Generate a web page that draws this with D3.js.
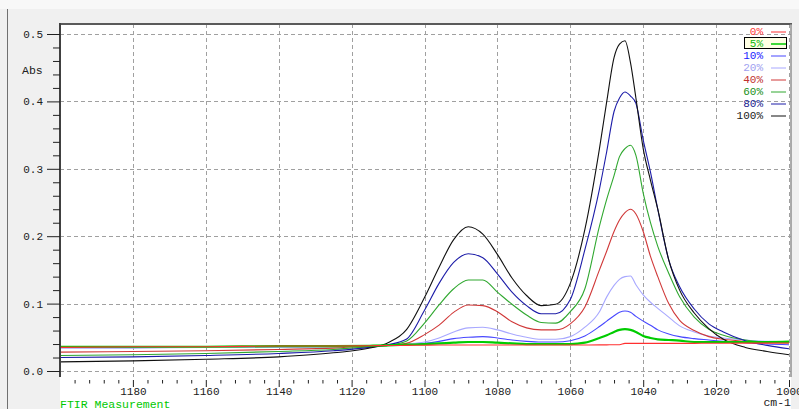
<!DOCTYPE html>
<html>
<head>
<meta charset="utf-8">
<script src="https://cdn.jsdelivr.net/npm/d3@7"></script>
<style>
  html, body { margin: 0; padding: 0; background: #f0f0f0; }
  svg { display: block; }
  text { font-family: "Liberation Mono", "DejaVu Sans Mono", monospace; }
</style>
</head>
<body>
<svg id="chart" width="799" height="409"></svg>
<script>
/* global d3 */
(function() {
    'use strict';

    // wavenumber grid (cm-1) the absorbance values were read at
    var WAVENUMBERS = [1200, 1180, 1160, 1140, 1125, 1115, 1110, 1105, 1100, 1096,
        1092, 1088, 1084, 1080, 1076, 1072, 1068, 1064, 1060, 1056,
        1052, 1050, 1048, 1046.5, 1045, 1043.5, 1042, 1040, 1038, 1036,
        1033, 1030, 1026, 1022, 1018, 1012, 1006, 1000];

    var ABS_0 = [0.035, 0.036, 0.036, 0.037, 0.037, 0.0375, 0.0378, 0.038, 0.0383, 0.0385,
        0.0385, 0.0385, 0.0385, 0.0385, 0.0385, 0.0385, 0.0385, 0.0385, 0.0385, 0.0386,
        0.0387, 0.0388, 0.0389, 0.039, 0.041, 0.041, 0.041, 0.041, 0.041, 0.041,
        0.041, 0.041, 0.041, 0.0412, 0.0412, 0.0413, 0.0414, 0.0415];
    var ABS_5 = [0.036, 0.036, 0.036, 0.037, 0.037, 0.0375, 0.038, 0.039, 0.040, 0.041,
        0.042, 0.043, 0.043, 0.042, 0.041, 0.040, 0.040, 0.040, 0.040, 0.042,
        0.049, 0.053, 0.058, 0.061, 0.062, 0.061, 0.058, 0.052, 0.049, 0.047,
        0.046, 0.045, 0.043, 0.043, 0.043, 0.043, 0.043, 0.0435];
    var ABS_10 = [0.035, 0.035, 0.035, 0.036, 0.036, 0.037, 0.038, 0.039, 0.041, 0.044,
        0.048, 0.050, 0.051, 0.049, 0.046, 0.044, 0.043, 0.043, 0.045, 0.052,
        0.066, 0.074, 0.082, 0.087, 0.089, 0.087, 0.081, 0.074, 0.068, 0.061,
        0.055, 0.051, 0.048, 0.046, 0.044, 0.042, 0.040, 0.039];
    var ABS_20 = [0.034, 0.034, 0.035, 0.035, 0.036, 0.037, 0.038, 0.040, 0.043, 0.049,
        0.058, 0.064, 0.065, 0.061, 0.055, 0.050, 0.047, 0.047, 0.051, 0.065,
        0.088, 0.110, 0.127, 0.136, 0.140, 0.141, 0.128, 0.113, 0.102, 0.093,
        0.080, 0.067, 0.058, 0.052, 0.049, 0.046, 0.044, 0.0435];
    var ABS_40 = [0.028, 0.029, 0.030, 0.032, 0.034, 0.037, 0.038, 0.041, 0.054, 0.068,
        0.087, 0.098, 0.097, 0.088, 0.073, 0.064, 0.061, 0.061, 0.070, 0.095,
        0.150, 0.178, 0.207, 0.224, 0.235, 0.240, 0.233, 0.207, 0.170, 0.140,
        0.100, 0.075, 0.060, 0.051, 0.047, 0.044, 0.042, 0.0415];
    var ABS_60 = [0.023, 0.024, 0.026, 0.029, 0.032, 0.036, 0.038, 0.044, 0.071, 0.098,
        0.122, 0.135, 0.135, 0.117, 0.099, 0.083, 0.072, 0.071, 0.088, 0.122,
        0.215, 0.255, 0.290, 0.318, 0.330, 0.335, 0.320, 0.264, 0.220, 0.185,
        0.145, 0.110, 0.080, 0.062, 0.053, 0.046, 0.043, 0.042];
    var ABS_80 = [0.020, 0.021, 0.023, 0.026, 0.030, 0.035, 0.039, 0.047, 0.090, 0.130,
        0.161, 0.174, 0.168, 0.144, 0.117, 0.097, 0.085, 0.085, 0.106, 0.180,
        0.270, 0.326, 0.385, 0.405, 0.414, 0.408, 0.397, 0.343, 0.295, 0.240,
        0.165, 0.125, 0.092, 0.070, 0.058, 0.045, 0.038, 0.033];
    var ABS_100 = [0.0135, 0.015, 0.0175, 0.021, 0.027, 0.034, 0.042, 0.061, 0.109, 0.154,
        0.195, 0.214, 0.203, 0.173, 0.138, 0.112, 0.097, 0.099, 0.130, 0.210,
        0.330, 0.400, 0.465, 0.485, 0.490, 0.458, 0.405, 0.330, 0.283, 0.240,
        0.165, 0.120, 0.086, 0.063, 0.047, 0.035, 0.029, 0.024];

    var SERIES_NAMES = ['0%', '5%', '10%', '20%', '40%', '60%', '80%', '100%'];
    var SERIES_VALUES = [ABS_0, ABS_5, ABS_10, ABS_20, ABS_40, ABS_60, ABS_80, ABS_100];
    var X_TICKS = [1180, 1160, 1140, 1120, 1100, 1080, 1060, 1040, 1020, 1000];
    var Y_TICKS = [0, 0.1, 0.2, 0.3, 0.4, 0.5];

    var LINE_COLORS = ['#ff3030', '#00cc00', '#4848ff', '#a8a8ff', '#d03838', '#30a830', '#1c1ca8', '#101010'],
        TEXT_COLORS = ['#ff3838', '#10b810', '#2020ff', '#a0a0f0', '#c03030', '#209020', '#202090', '#202020'],
        DRAW_ORDER = [2, 3, 4, 5, 6, 7, 1, 0];

    var svg = d3.select('#chart'),
        left = 60, right = 791, top = 24, bottom = 377;

    var x = d3.scaleLinear().domain([1200, 1000]).range([60, 789]),
        y = d3.scaleLinear().domain([0, 0.5]).range([371, 34]);

    // window chrome
    svg.append('rect').attr('width', 799).attr('height', 409).attr('fill', '#f0f0f0');
    svg.append('rect').attr('width', 799).attr('height', 9).attr('fill', '#f8f8f8');
    svg.append('line').attr('x1', 7.5).attr('x2', 7.5).attr('y1', 9).attr('y2', 409)
        .attr('stroke', '#707070');
    svg.append('rect').attr('x', left).attr('y', top)
        .attr('width', right - left).attr('height', 409 - top).attr('fill', '#fff');

    svg.append('clipPath').attr('id', 'plot-clip')
        .append('rect').attr('x', left).attr('y', top)
        .attr('width', right - left).attr('height', bottom - top);

    // dashed grid
    var grid = svg.append('g').attr('class', 'grid')
        .attr('stroke', '#a0a0a0').attr('stroke-dasharray', '4,3').attr('shape-rendering', 'crispEdges');
    grid.selectAll('line.gx').data(X_TICKS).enter().append('line').attr('class', 'gx')
        .attr('x1', function(d) { return Math.round(x(d)) + 0.5; })
        .attr('x2', function(d) { return Math.round(x(d)) + 0.5; })
        .attr('y1', top).attr('y2', bottom);
    grid.selectAll('line.gy').data(Y_TICKS).enter().append('line').attr('class', 'gy')
        .attr('y1', function(d) { return Math.round(y(d)) + 0.5; })
        .attr('y2', function(d) { return Math.round(y(d)) + 0.5; })
        .attr('x1', left).attr('x2', right);

    // spectra
    var line = d3.line()
        .x(function(d, i) { return x(WAVENUMBERS[i]); })
        .y(function(d) { return y(d); })
        .curve(d3.curveMonotoneX);

    svg.append('g').attr('clip-path', 'url(#plot-clip)')
        .selectAll('path').data(DRAW_ORDER).enter().append('path')
        .attr('d', function(k) { return line(SERIES_VALUES[k]); })
        .attr('fill', 'none')
        .attr('stroke', function(k) { return LINE_COLORS[k]; })
        .attr('stroke-width', function(k) { return k === 1 ? 2.2 : 1.1; });

    // frame
    svg.append('line').attr('x1', left - 1).attr('x2', right + 1).attr('y1', top).attr('y2', top)
        .attr('stroke', '#5a5a5a').attr('stroke-width', 2);
    svg.append('line').attr('x1', right).attr('x2', right).attr('y1', top).attr('y2', bottom)
        .attr('stroke', '#909090').attr('stroke-width', 1.5);
    svg.append('line').attr('x1', left).attr('x2', left).attr('y1', top - 1).attr('y2', bottom)
        .attr('stroke', '#404040').attr('stroke-width', 2);

    // axes
    var yMinor = d3.range(0, 0.51, 0.02).filter(function(v) { return Math.round(v * 100) % 10 !== 0; }),
        xMinor = d3.range(1196, 1000, -4).filter(function(v) { return v % 20 !== 0; });

    function styleAxis(g) {
        g.select('.domain').remove();
        g.selectAll('line').attr('stroke', '#202020');
        g.selectAll('text').attr('fill', '#202020').style('font-size', '11px')
            .style('font-family', '"Liberation Mono", monospace');
    }

    svg.append('g').attr('transform', 'translate(' + left + ',0)')
        .call(d3.axisLeft(y).tickValues(Y_TICKS).tickSize(13).tickPadding(4).tickFormat(d3.format('.1f')))
        .call(styleAxis);
    svg.append('g').attr('transform', 'translate(' + left + ',0)')
        .call(d3.axisLeft(y).tickValues(yMinor).tickSize(7).tickFormat(''))
        .call(styleAxis);
    svg.append('g').attr('transform', 'translate(0,380)')
        .call(d3.axisBottom(x).tickValues(X_TICKS).tickSize(7).tickPadding(0).tickFormat(d3.format('d')))
        .call(styleAxis);
    svg.append('g').attr('transform', 'translate(0,380)')
        .call(d3.axisBottom(x).tickValues(xMinor).tickSize(3.5).tickFormat(''))
        .call(styleAxis);

    svg.append('text').attr('x', 22).attr('y', 74).text('Abs')
        .attr('fill', '#202020').style('font-size', '11.5px');
    svg.append('text').attr('x', 791).attr('y', 406).attr('text-anchor', 'end').text('cm-1')
        .attr('fill', '#202020').style('font-size', '11.5px');
    svg.append('text').attr('x', 60).attr('y', 408).text('FTIR Measurement')
        .attr('fill', '#00c800').style('font-size', '11.5px');

    // legend
    var legend = svg.append('g').attr('class', 'legend');
    legend.append('rect').attr('x', 744.5).attr('y', 37.5).attr('width', 42).attr('height', 11)
        .attr('fill', '#ffffe4').attr('stroke', '#000');
    var rows = legend.selectAll('g.row').data(SERIES_NAMES).enter().append('g').attr('class', 'row')
        .attr('transform', function(d, i) { return 'translate(0,' + (31.5 + i * 12) + ')'; });
    rows.append('text').attr('x', 763).attr('dy', '0.36em').attr('text-anchor', 'end')
        .style('font-size', '11px')
        .attr('fill', function(d, i) { return TEXT_COLORS[i]; })
        .text(function(d) { return d; });
    rows.append('line').attr('x1', 771).attr('x2', 786).attr('y1', 0.5).attr('y2', 0.5)
        .attr('stroke', function(d, i) { return LINE_COLORS[i]; })
        .attr('stroke-width', function(d, i) { return i === 1 ? 1.5 : 1; });
}());
</script>
</body>
</html>
